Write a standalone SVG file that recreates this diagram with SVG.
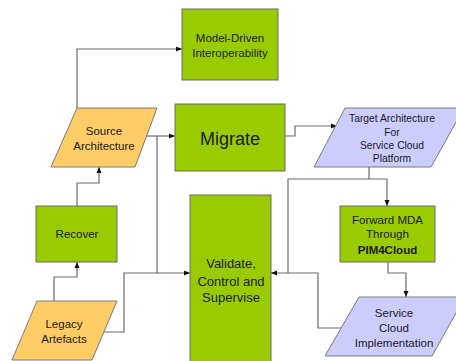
<svg xmlns="http://www.w3.org/2000/svg" width="456" height="361" viewBox="0 0 456 361">
<defs>
<style>
.box{fill:#99cc00;stroke:#6b6b6b;stroke-width:1}
.orange{fill:#ffcc66;stroke:#7a7a7a;stroke-width:1}
.lav{fill:#ccccff;stroke:#7a7a7a;stroke-width:1}
.t{font-family:"Liberation Sans",Arial,sans-serif;font-size:11.5px;fill:#1a1a1a;text-anchor:middle}
.c{fill:none;stroke:#6a6a6a;stroke-width:1.2}
</style>
<marker id="ah" markerWidth="6" markerHeight="6" refX="6" refY="3" orient="auto" markerUnits="userSpaceOnUse">
<path d="M0,0.5 L6,3 L0,5.5 Z" fill="#111"/>
</marker>
</defs>
<rect width="456" height="361" fill="#fff"/>
<g id="connectors">
<path class="c" d="M77,108 V49 H182" marker-end="url(#ah)"/>
<path class="c" d="M146,136 H175" marker-end="url(#ah)"/>
<path class="c" d="M157,136 V273"/>
<path class="c" d="M103,332 H124 V273 H190" marker-end="url(#ah)"/>
<path class="c" d="M54,301 V277 H77 V262" marker-end="url(#ah)"/>
<path class="c" d="M77,206 V183 H99 V167" marker-end="url(#ah)"/>
<path class="c" d="M285,136 H295 V126 H337" marker-end="url(#ah)"/>
<path class="c" d="M369,167 V179 H387 V206" marker-end="url(#ah)"/>
<path class="c" d="M369,179 H288 V273 H271" marker-end="url(#ah)"/>
<path class="c" d="M341,328 H318 V273 H288"/>
<path class="c" d="M388,262 V273 H406 V297" marker-end="url(#ah)"/>
</g>
<g id="model-driven">
<rect class="box" x="182" y="9" width="96" height="71"/>
<text class="t" x="230" y="42">Model-Driven</text>
<text class="t" x="230" y="57">Interoperability</text>
</g>
<g id="migrate">
<rect class="box" x="175" y="104" width="110" height="67"/>
<text class="t" x="230" y="145" style="font-size:18px">Migrate</text>
</g>
<g id="source">
<polygon class="orange" points="77,108 157,108 135,167 51,167"/>
<text class="t" x="104" y="135">Source</text>
<text class="t" x="104" y="150">Architecture</text>
</g>
<g id="target">
<polygon class="lav" points="345,108 464,108 431,167 314,167"/>
<text class="t" x="392" y="122" style="font-size:10.3px">Target Architecture</text>
<text class="t" x="392" y="135.5" style="font-size:10.3px">For</text>
<text class="t" x="392" y="149" style="font-size:10.3px">Service Cloud</text>
<text class="t" x="392" y="161.5" style="font-size:10.3px">Platform</text>
</g>
<g id="recover">
<rect class="box" x="36" y="206" width="81" height="56"/>
<text class="t" x="77" y="238">Recover</text>
</g>
<g id="validate">
<rect class="box" x="190" y="195" width="81" height="170"/>
<text class="t" x="231" y="268" style="font-size:13px">Validate,</text>
<text class="t" x="231" y="286" style="font-size:13px">Control and</text>
<text class="t" x="231" y="302" style="font-size:13px">Supervise</text>
</g>
<g id="forward">
<rect class="box" x="340" y="206" width="95" height="56"/>
<text class="t" x="387.5" y="224">Forward MDA</text>
<text class="t" x="387.5" y="238">Through</text>
<text class="t" x="387.5" y="254" style="font-weight:bold">PIM4Cloud</text>
</g>
<g id="service">
<polygon class="lav" points="359,297 465,297 432,356 325,356"/>
<text class="t" x="394" y="317">Service</text>
<text class="t" x="394" y="331.5">Cloud</text>
<text class="t" x="394" y="347">Implementation</text>
</g>
<g id="legacy">
<polygon class="orange" points="37,301 117,301 92,360 12,360"/>
<text class="t" x="64" y="328">Legacy</text>
<text class="t" x="64" y="343">Artefacts</text>
</g>
</svg>
